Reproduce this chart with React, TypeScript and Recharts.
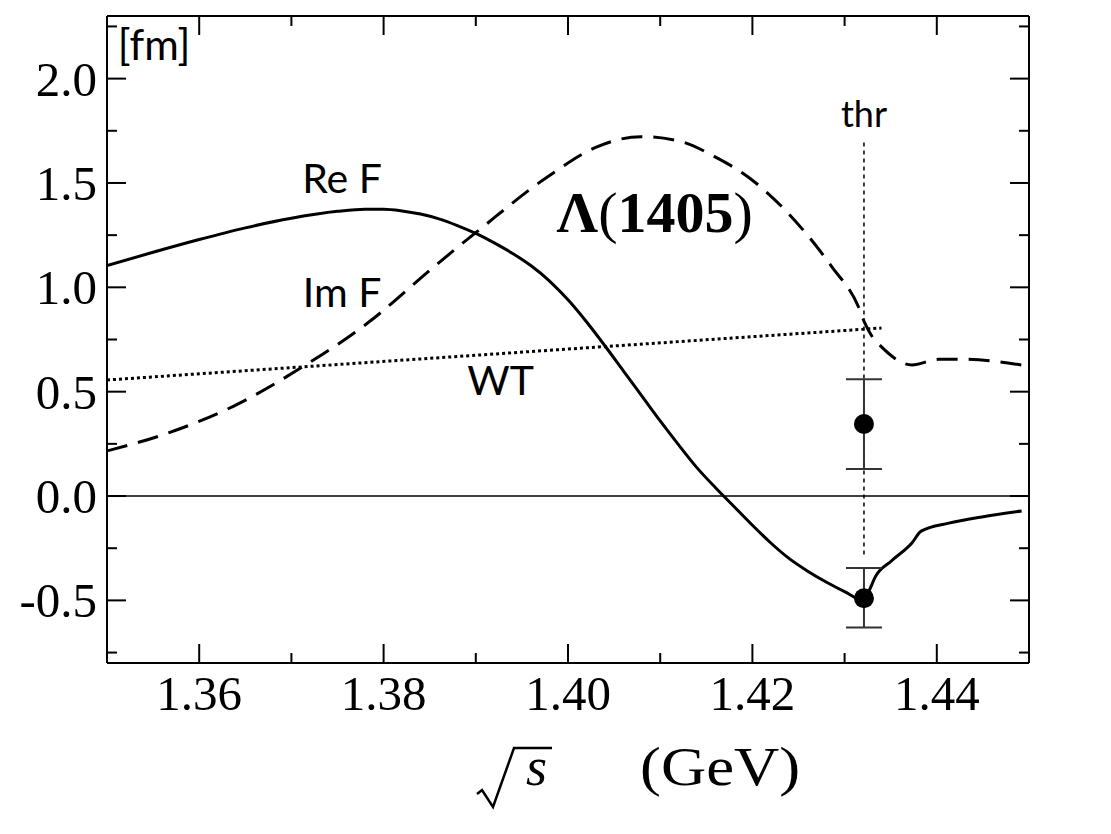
import React from 'react'
import { ComposedChart, Line, Scatter, ErrorBar, XAxis, YAxis, ReferenceLine, ReferenceDot } from 'recharts'

// Re F (solid), sqrt(s) in GeV vs fm
const reF = [
  { x: 1.35, y: 1.104 },
  { x: 1.355, y: 1.168 },
  { x: 1.36, y: 1.229 },
  { x: 1.365, y: 1.285 },
  { x: 1.37, y: 1.331 },
  { x: 1.375, y: 1.364 },
  { x: 1.378, y: 1.374 },
  { x: 1.38, y: 1.374 },
  { x: 1.382, y: 1.366 },
  { x: 1.384, y: 1.351 },
  { x: 1.386, y: 1.328 },
  { x: 1.388, y: 1.296 },
  { x: 1.39, y: 1.258 },
  { x: 1.392, y: 1.213 },
  { x: 1.394, y: 1.162 },
  { x: 1.396, y: 1.103 },
  { x: 1.398, y: 1.03 },
  { x: 1.4, y: 0.94 },
  { x: 1.402, y: 0.835 },
  { x: 1.404, y: 0.72 },
  { x: 1.406, y: 0.6 },
  { x: 1.408, y: 0.48 },
  { x: 1.41, y: 0.36 },
  { x: 1.412, y: 0.245 },
  { x: 1.414, y: 0.135 },
  { x: 1.416, y: 0.04 },
  { x: 1.418, y: -0.05 },
  { x: 1.42, y: -0.14 },
  { x: 1.422, y: -0.225 },
  { x: 1.424, y: -0.3 },
  { x: 1.426, y: -0.36 },
  { x: 1.428, y: -0.412 },
  { x: 1.43, y: -0.458 },
  { x: 1.4321, y: -0.5 },
  { x: 1.4327, y: -0.45 },
  { x: 1.4333, y: -0.39 },
  { x: 1.4351, y: -0.31 },
  { x: 1.4373, y: -0.225 },
  { x: 1.4383, y: -0.168 },
  { x: 1.4413, y: -0.13 },
  { x: 1.4449, y: -0.1 },
  { x: 1.4492, y: -0.072 },
]

// Im F (dashed)
const imF = [
  { x: 1.35, y: 0.216 },
  { x: 1.3565, y: 0.3 },
  { x: 1.3637, y: 0.43 },
  { x: 1.371, y: 0.613 },
  { x: 1.3783, y: 0.83 },
  { x: 1.3855, y: 1.1 },
  { x: 1.3905, y: 1.28 },
  { x: 1.3978, y: 1.53 },
  { x: 1.4032, y: 1.674 },
  { x: 1.4079, y: 1.722 },
  { x: 1.4123, y: 1.698 },
  { x: 1.4159, y: 1.626 },
  { x: 1.4195, y: 1.53 },
  { x: 1.4232, y: 1.386 },
  { x: 1.4286, y: 1.099 },
  { x: 1.4315, y: 0.907 },
  { x: 1.4322, y: 0.828 },
  { x: 1.433, y: 0.763 },
  { x: 1.434, y: 0.715 },
  { x: 1.4373, y: 0.628 },
  { x: 1.4402, y: 0.655 },
  { x: 1.4431, y: 0.655 },
  { x: 1.4492, y: 0.628 },
]

// Weinberg-Tomozawa term (dotted)
const wt = [
  { x: 1.35, y: 0.556 },
  { x: 1.434, y: 0.805 },
]

// data points at threshold, err = [below, above]
const points = [
  { x: 1.4321, y: 0.345, err: [0.215, 0.215] },
  { x: 1.4321, y: -0.49, err: [0.14, 0.145] },
]

const thresholdX = 1.4321
const xMajor = [1.36, 1.38, 1.4, 1.42, 1.44]
const xMinor = [1.37, 1.39, 1.41, 1.43]
const yMajor = [-0.5, 0, 0.5, 1, 1.5, 2]
const yMinor = [-0.75, -0.25, 0.25, 0.75, 1.25, 1.75, 2.25]

const xTicks = [...xMajor, ...xMinor].sort((a, b) => a - b)
const yTicks = [...yMajor, ...yMinor].sort((a, b) => a - b)

const serif = '"Liberation Serif", "Times New Roman", serif'
const sans = 'Lato, "Open Sans", sans-serif'
const MAJOR = 19
const MINOR = 10

const isMajor = (list: number[], v: number) => list.some((m) => Math.abs(m - v) < 1e-9)

const BottomTick = ({ x, y, payload }: any) => {
  const major = isMajor(xMajor, payload.value)
  return (
    <g>
      <line x1={x} x2={x} y1={y} y2={y - (major ? MAJOR : MINOR)} stroke="#000" strokeWidth={2} />
      {major && (
        <text x={x} y={y + 47} textAnchor="middle" fontFamily={serif} fontSize={49} fill="#000">
          {payload.value.toFixed(2)}
        </text>
      )}
    </g>
  )
}

const TopTick = ({ x, y, payload }: any) => {
  const major = isMajor(xMajor, payload.value)
  return <line x1={x} x2={x} y1={y} y2={y + (major ? MAJOR : MINOR)} stroke="#000" strokeWidth={2} />
}

const LeftTick = ({ x, y, payload }: any) => {
  const major = isMajor(yMajor, payload.value)
  return (
    <g>
      <line x1={x} x2={x + (major ? MAJOR : MINOR)} y1={y} y2={y} stroke="#000" strokeWidth={2} />
      {major && (
        <text x={x - 10} y={y + 17} textAnchor="end" fontFamily={serif} fontSize={49} fill="#000">
          {payload.value.toFixed(1)}
        </text>
      )}
    </g>
  )
}

const RightTick = ({ x, y, payload }: any) => {
  const major = isMajor(yMajor, payload.value)
  return <line x1={x} x2={x - (major ? MAJOR : MINOR)} y1={y} y2={y} stroke="#000" strokeWidth={2} />
}

const AxisTitle = ({ viewBox }: any) => {
  const cx = viewBox.x + viewBox.width / 2
  const base = viewBox.y + 122
  const p = (dx: number, dy: number) => `${cx + dx},${base + dy}`
  return (
    <g>
      <path
        d={`M${p(-91, 9)} L${p(-86, 5)} L${p(-75, 22)} L${p(-54, -37)} L${p(-16, -37)}`}
        fill="none"
        stroke="#000"
        strokeWidth={2.5}
      />
      <text x={cx - 42} y={base} fontFamily={serif} fontStyle="italic" fontSize={54} fill="#000">
        s
      </text>
      <text transform={`translate(${cx + 72},${base}) scale(1.12,1)`} fontFamily={serif} fontSize={56} fill="#000">
        (GeV)
      </text>
    </g>
  )
}

const note = (text: React.ReactNode, font: string, size: number) => (props: any) => (
  <text x={props.cx} y={props.cy} textAnchor="middle" fontFamily={font} fontSize={size} fill="#000">
    {text}
  </text>
)

const lambdaLabel = (
  <>
    <tspan fontWeight="bold">Λ</tspan>
    <tspan>(</tspan>
    <tspan fontWeight="bold">1405</tspan>
    <tspan>)</tspan>
  </>
)

const Dot = (props: any) => <circle cx={props.cx} cy={props.cy} r={10} fill="#000" />

export default function App() {
  return (
    <ComposedChart width={1100} height={820} margin={{ top: 7, right: 78, bottom: 0, left: 0 }}>
      <XAxis
        dataKey="x"
        type="number"
        domain={[1.35, 1.45]}
        allowDataOverflow
        ticks={xTicks}
        interval={0}
        tickSize={0}
        tickMargin={0}
        tickLine={false}
        tick={BottomTick}
        axisLine={{ stroke: '#000', strokeWidth: 2 }}
        height={165}
        label={{ content: AxisTitle }}
      />
      <XAxis
        xAxisId="t"
        orientation="top"
        dataKey="x"
        type="number"
        domain={[1.35, 1.45]}
        allowDataOverflow
        ticks={xTicks}
        interval={0}
        tickSize={0}
        tickMargin={0}
        tickLine={false}
        tick={TopTick}
        axisLine={{ stroke: '#000', strokeWidth: 2 }}
        height={1}
      />
      <YAxis
        type="number"
        domain={[-0.8, 2.3]}
        allowDataOverflow
        ticks={yTicks}
        interval={0}
        tickSize={0}
        tickMargin={0}
        tickLine={false}
        tick={LeftTick}
        axisLine={{ stroke: '#000', strokeWidth: 2 }}
        width={99}
      />
      <YAxis
        yAxisId="r"
        orientation="right"
        type="number"
        domain={[-0.8, 2.3]}
        allowDataOverflow
        ticks={yTicks}
        interval={0}
        tickSize={0}
        tickMargin={0}
        tickLine={false}
        tick={RightTick}
        axisLine={{ stroke: '#000', strokeWidth: 2 }}
        width={1}
      />

      <ReferenceLine y={0} stroke="#000" strokeWidth={1.5} />
      <ReferenceLine
        segment={[
          { x: thresholdX, y: -0.28 },
          { x: thresholdX, y: 1.71 },
        ]}
        stroke="#000"
        strokeWidth={1.5}
        strokeDasharray="4 4"
      />

      <Line data={wt} dataKey="y" type="linear" stroke="#000" strokeWidth={3} strokeDasharray="3 3" dot={false} isAnimationActive={false} />
      <Line data={imF} dataKey="y" type="monotone" stroke="#000" strokeWidth={3} strokeDasharray="21 11" dot={false} isAnimationActive={false} />
      <Line data={reF} dataKey="y" type="monotone" stroke="#000" strokeWidth={3} dot={false} isAnimationActive={false} />

      <Scatter data={points} dataKey="y" shape={Dot} isAnimationActive={false}>
        <ErrorBar dataKey="err" direction="y" width={18} stroke="#333" strokeWidth={2} isAnimationActive={false} />
      </Scatter>

      <ReferenceDot x={1.3551} y={2.089} shape={note('[fm]', sans, 42)} />
      <ReferenceDot x={1.3755} y={1.452} shape={note('Re F', sans, 41)} />
      <ReferenceDot x={1.3755} y={0.906} shape={note('Im F', sans, 41)} />
      <ReferenceDot x={1.3927} y={0.484} shape={note('WT', sans, 41)} />
      <ReferenceDot x={thresholdX} y={1.768} shape={note('thr', sans, 36)} />
      <ReferenceDot x={1.4094} y={1.265} shape={note(lambdaLabel, serif, 58)} />
    </ComposedChart>
  )
}
